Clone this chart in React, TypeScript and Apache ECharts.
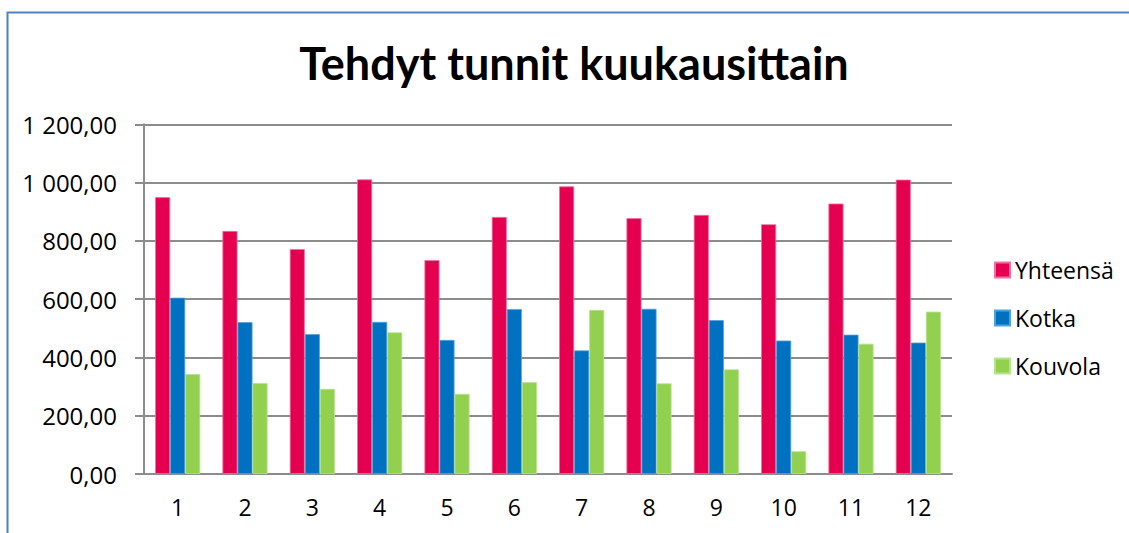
import React, { useEffect, useRef } from "react";
import * as echarts from "echarts";

const months = ["1", "2", "3", "4", "5", "6", "7", "8", "9", "10", "11", "12"];
const yhteensa = [950, 834, 772, 1011, 734, 882, 987, 878, 889, 857, 928, 1010];
const kotka = [605, 521, 480, 522, 460, 566, 424, 567, 528, 458, 478, 451];
const kouvola = [343, 312, 292, 486, 275, 315, 563, 311, 359, 78, 447, 557];
const seriesNames = ["Yhteensä", "Kotka", "Kouvola"];
const colors = ["#E4004F", "#0070C0", "#92D050"];
const borderColors = ["#F2709A", "#4FA3DD", "#B8E38E"];

const fmt = (v: number) => {
  const s = v.toFixed(2).replace(".", ",");
  const [i, d] = s.split(",");
  return i.replace(/\B(?=(\d{3})+(?!\d))/g, " ") + "," + d;
};

export default function App() {
  const ref = useRef<HTMLDivElement>(null);
  useEffect(() => {
    if (!ref.current) return;
    const chart = echarts.init(ref.current, undefined, { renderer: "svg" });
    const data = [yhteensa, kotka, kouvola];
    chart.setOption({
      animation: false,
      backgroundColor: "#ffffff",
      title: {
        text: "Tehdyt tunnit kuukausittain",
        left: 569,
        top: 35,
        textAlign: "center",
        textStyle: { fontFamily: "Lato", fontWeight: "bold", fontSize: 45, color: "#000" },
      },
      legend: {
        orient: "vertical",
        left: 989,
        top: 253,
        itemWidth: 15,
        itemHeight: 15,
        itemGap: 24,
        icon: "rect",
        textStyle: { fontFamily: "Open Sans", fontSize: 23, color: "#000", lineHeight: 24 },
        data: seriesNames,
      },
      graphic: [
        {
          type: "polyline",
          shape: { points: [[7.5, 540], [7.5, 12.5], [1140, 12.5]] },
          style: { stroke: "#4F81BD", lineWidth: 2, fill: "none" },
          silent: true,
        },
      ],
      grid: { left: 144, top: 124.3, right: 177, bottom: 59, containLabel: false },
      xAxis: {
        type: "category",
        data: months,
        axisLine: { show: true, lineStyle: { color: "#8C8C8C", width: 2 } },
        axisTick: { show: false },
        axisLabel: { fontFamily: "Open Sans", fontSize: 23, color: "#000", margin: 21 },
      },
      yAxis: {
        type: "value",
        min: 0,
        max: 1200,
        interval: 200,
        axisLine: { show: true, lineStyle: { color: "#8C8C8C", width: 2 } },
        axisTick: { show: true, length: 9, lineStyle: { color: "#8C8C8C", width: 2 } },
        splitLine: { show: true, lineStyle: { color: "#8C8C8C", width: 2 } },
        axisLabel: {
          fontFamily: "Open Sans",
          fontSize: 24,
          color: "#000",
          margin: 27,
          formatter: (v: number) => fmt(v),
        },
      },
      series: seriesNames.map((name, i) => ({
        name,
        type: "bar",
        data: data[i],
        barGap: "0%",
        barCategoryGap: "33%",
        itemStyle: { color: colors[i], borderColor: borderColors[i], borderWidth: 0.8 },
      })),
    });
    return () => chart.dispose();
  }, []);
  return (
    <div
      ref={ref}
      style={{ position: "fixed", left: 0, top: 0, width: 1129, height: 533 }}
    />
  );
}
